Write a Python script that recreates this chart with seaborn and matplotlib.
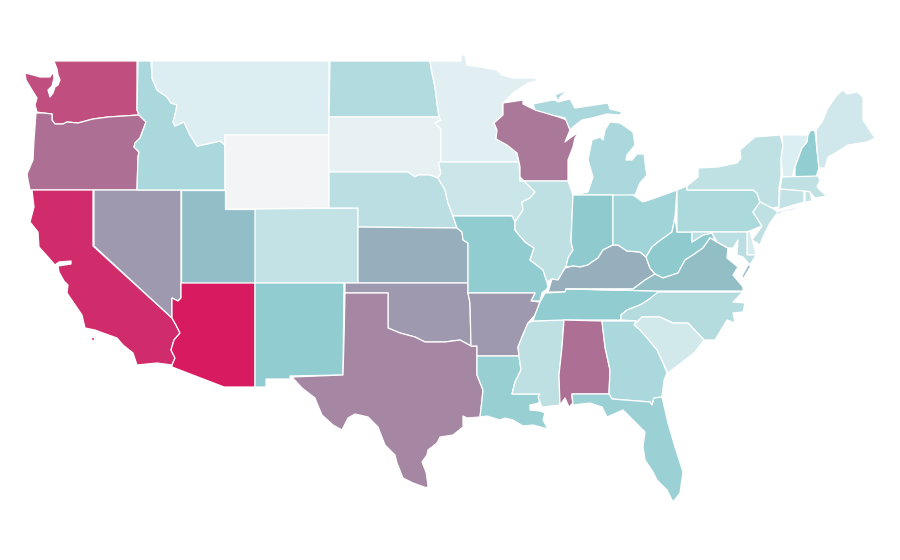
import matplotlib
matplotlib.use("Agg")
import matplotlib.pyplot as plt
from matplotlib.collections import PolyCollection
from matplotlib.colors import Normalize
import numpy as np
import seaborn as sns

# value of each state, 0 = lowest, 1 = highest
states = ["WA", "OR", "CA", "NV", "ID", "MT", "WY", "UT", "AZ", "CO", "NM", "ND", "SD", "NE", "KS", "OK",
          "TX", "MN", "IA", "MO", "AR", "LA", "WI", "IL", "MS", "MI", "IN", "KY", "TN", "AL", "OH", "WV",
          "VA", "NC", "SC", "GA", "FL", "PA", "NY", "VT", "NH", "ME", "MA", "CT", "RI", "NJ", "DE", "MD"]
values = [0.875, 0.75, 0.96, 0.625, 0.35, 0.125, 0.0, 0.53, 1.0, 0.24, 0.49, 0.32, 0.07, 0.28, 0.574, 0.625,
          0.68, 0.10, 0.20, 0.49, 0.625, 0.455, 0.726, 0.26, 0.26, 0.35, 0.50, 0.574, 0.485, 0.75, 0.40, 0.50,
          0.535, 0.31, 0.17, 0.35, 0.43, 0.345, 0.25, 0.13, 0.48, 0.18, 0.25, 0.24, 0.24, 0.25, 0.15, 0.28]

# colour scale, evenly spaced stops
scale_colors = ["#f3f4f6", "#dceef1", "#c0e1e4", "#a6d6da", "#8ecbcf", "#9e9aaf", "#ad7094", "#bf4f80", "#d81b60"]

# state outlines, traced from the map (no geo data available here)
outlines = {
    "WA": [[(54,61),(137,61),(137,110),(139,115),(108,117),(93,119),(78,123),(67,122),(63,124),(55,124),(52,120),
            (52,114),(43,113),(37,112),(35,105),(37,98),(32,90),(26,80),(25,73),(33,75),(40,77),(50,77),(53,72),
            (54,78),(52,86),(48,90),(50,97),(53,93),(55,87),(58,85),(60,80),(58,75),(57,69)]],
    "OR": [[(36,113),(43,113),(52,114),(52,120),(55,124),(63,124),(67,122),(78,123),(93,119),(108,117),(139,115),
            (146,122),(143,130),(140,138),(135,143),(134,147),(139,152),(138,157),(137,190),(30,190),(28,180),
            (27,174),(33,160),(34,140)]],
    "CA": [[(32,190),(93,190),(93,246),(172,318),(176,325),(180,333),(174,340),(171,350),(175,358),(172,365),
            (157,363),(137,365),(133,353),(123,345),(117,338),(103,333),(95,330),(85,328),(82,315),(67,293),
            (68,285),(64,281),(59,272),(58,266),(71,264),(71,261),(59,262),(55,265),(48,257),(39,247),(38,232),
            (30,222),(34,207)],
           [(91,337),(94,337),(94,340),(91,340)]],
    "NV": [[(94,190),(181,190),(181,298),(178,301),(172,298),(172,315),(172,318),(94,246)]],
    "ID": [[(138,61),(151,61),(152,78),(157,90),(167,97),(171,103),(177,105),(175,115),(173,122),(175,126),(184,122),
            (190,135),(197,146),(207,144),(220,141),(225,145),(225,190),(137,190),(138,157),(139,152),(134,147),
            (135,143),(140,138),(143,130),(146,122),(139,115),(137,110)]],
    "MT": [[(152,61),(329,61),(329,135),(225,135),(225,145),(220,141),(207,144),(197,146),(190,135),(184,122),
            (175,126),(173,122),(175,115),(177,105),(171,103),(167,97),(157,90),(152,78)]],
    "WY": [[(225,135),(329,135),(329,208),(225,209)]],
    "UT": [[(181,190),(225,190),(225,209),(255,209),(255,283),(181,283)]],
    "AZ": [[(181,283),(255,283),(255,387),(224,387),(172,367),(172,365),(175,358),(171,350),(174,340),(180,333),
            (176,325),(172,318),(172,298),(178,301),(181,298)]],
    "CO": [[(255,209),(358,208),(358,283),(255,283)]],
    "NM": [[(255,283),(344,283),(343,375),(290,376),(290,379),(266,379),(266,387),(255,387)]],
    "ND": [[(330,61),(430,61),(432,73),(435,87),(437,103),(439,117),(329,117)]],
    "SD": [[(329,117),(439,117),(441,120),(435,123),(441,129),(441,162),(439,165),(441,173),(438,178),(430,175),
            (418,175),(415,177),(408,172),(329,172)]],
    "NE": [[(329,172),(408,172),(415,177),(418,175),(430,175),(438,178),(445,190),(448,203),(453,216),(457,228),
            (358,227),(358,208),(329,208)]],
    "KS": [[(358,227),(457,228),(462,232),(463,240),(468,243),(468,283),(358,283)]],
    "OK": [[(345,283),(468,283),(468,293),(470,303),(471,346),(460,340),(445,342),(425,342),(415,337),(400,333),
            (388,328),(388,293),(345,293)]],
    "TX": [[(345,293),(388,293),(388,328),(400,333),(415,337),(425,342),(445,342),(460,340),(471,346),(477,346),
            (477,375),(483,390),(482,400),(480,417),(467,418),(463,416),(463,427),(453,435),(440,437),(437,443),
            (428,450),(427,455),(422,462),(426,472),(428,485),(427,488),(413,483),(403,478),(397,463),(395,455),
            (385,445),(378,427),(368,417),(355,414),(348,418),(342,430),(333,425),(322,415),(319,408),(315,398),
            (302,388),(292,377),(343,375),(344,340)]],
    "MN": [[(430,61),(461,61),(461,55),(465,55),(467,65),(480,67),(497,70),(502,75),(513,78),(533,78),(540,80),
            (528,83),(513,93),(503,103),(503,115),(494,123),(497,130),(496,139),(507,145),(517,153),(519,162),
            (441,162),(441,129),(435,123),(441,120),(439,117),(437,103),(435,87),(432,73)]],
    "IA": [[(439,162),(519,162),(520,177),(535,192),(530,198),(522,202),(523,210),(515,222),(512,216),(453,216),
            (448,203),(445,190),(438,178),(441,173),(439,165)]],
    "MO": [[(453,216),(512,216),(515,222),(515,230),(525,242),(534,248),(530,260),(543,270),(547,282),(548,288),
            (542,293),(540,301),(531,301),(535,293),(468,293),(468,243),(463,240),(462,232),(457,228)]],
    "AR": [[(468,293),(535,293),(531,301),(540,302),(535,315),(528,323),(522,337),(518,347),(519,356),(477,356),
            (477,346),(471,346),(470,303)]],
    "LA": [[(477,356),(519,356),(521,370),(515,382),(512,394),(540,394),(539,403),(530,405),(530,410),(540,411),
            (545,413),(543,420),(548,429),(533,425),(523,426),(513,420),(505,418),(500,420),(487,416),(480,417),
            (482,400),(483,390),(477,375)]],
    "WI": [[(503,103),(523,100),(523,104),(533,109),(547,113),(567,120),(570,130),(565,142),(570,138),(579,132),
            (575,138),(573,147),(568,160),(568,181),(520,181),(520,167),(519,162),(517,153),(507,145),(496,139),
            (497,130),(494,123),(503,115)]],
    "IL": [[(520,181),(568,181),(573,195),(571,242),(573,250),(568,258),(566,267),(565,268),(558,280),(552,279),
            (547,282),(543,270),(530,260),(534,248),(525,242),(515,230),(515,222),(523,210),(522,202),(530,198),
            (535,192),(520,177)]],
    "MS": [[(533,321),(564,320),(562,347),(559,375),(560,405),(542,407),(538,397),(540,394),(512,394),(515,382),
            (521,370),(519,356),(518,347),(522,337),(528,323)]],
    "MI": [[(533,104),(553,100),(558,101),(555,95),(568,90),(560,97),(558,102),(570,99),(575,108),(595,105),(608,103),
            (610,109),(622,112),(620,115),(607,114),(592,118),(582,120),(573,127),(570,130),(565,118),(552,115),(535,110)],
           [(610,122),(620,123),(633,132),(635,145),(627,155),(626,160),(632,160),(637,154),(644,154),(646,170),
            (647,175),(640,183),(635,195),(613,197),(613,195),(573,195),(588,192),(593,177),(588,160),(592,140),
            (600,137),(603,140),(605,130)]],
    "IN": [[(573,195),(613,195),(613,245),(603,250),(598,258),(592,262),(588,265),(580,267),(573,266),(566,267),
            (568,258),(573,250),(571,242)]],
    "KY": [[(548,292),(552,279),(558,280),(565,268),(573,266),(580,267),(588,265),(592,262),(598,258),(603,250),
            (613,245),(618,245),(627,251),(640,252),(646,257),(650,268),(655,274),(645,280),(633,289),(566,289),
            (565,292)]],
    "TN": [[(545,293),(565,292),(566,289),(658,291),(658,294),(640,305),(627,310),(621,315),(621,320),(564,320),
            (533,321),(535,315),(540,302)]],
    "AL": [[(564,320),(602,321),(605,347),(610,370),(609,394),(572,394),(572,398),(573,403),(569,407),(565,398),
            (560,405),(559,375),(562,347)]],
    "OH": [[(613,195),(633,195),(643,202),(655,198),(677,190),(675,217),(672,232),(658,242),(652,247),(646,257),
            (640,252),(627,251),(618,245),(613,245)]],
    "WV": [[(646,257),(652,247),(658,242),(672,232),(675,217),(677,232),(692,232),(692,242),(703,235),(712,233),
            (715,240),(710,238),(703,248),(693,255),(685,260),(678,273),(663,278),(655,274),(650,268)]],
    "VA": [[(633,289),(645,280),(655,274),(663,278),(678,273),(685,260),(693,255),(703,248),(710,238),(717,242),
            (728,248),(727,258),(738,267),(733,275),(743,287),(743,291),(658,291),(566,289)],
           [(748,265),(751,266),(743,279),(742,276)]],
    "NC": [[(658,292),(743,292),(733,302),(745,303),(743,312),(733,313),(735,323),(727,320),(715,340),(704,340),
            (688,323),(673,323),(660,317),(642,317),(634,325),(636,321),(621,320),(621,315),(627,310),(640,305),
            (648,300)]],
    "SC": [[(634,325),(642,317),(660,317),(673,323),(688,323),(704,340),(695,352),(685,360),(668,373),(663,363),
            (657,350),(647,338),(640,330)]],
    "GA": [[(602,321),(636,321),(634,325),(640,330),(647,338),(657,350),(663,363),(667,373),(664,380),(662,397),
            (654,398),(652,405),(650,402),(612,399),(609,394),(610,370),(605,347)]],
    "FL": [[(572,394),(609,394),(612,399),(650,402),(652,405),(654,398),(662,397),(668,423),(675,447),(683,472),
            (680,493),(673,502),(667,490),(657,480),(653,472),(645,460),(643,447),(645,432),(635,422),(623,410),
            (607,417),(602,407),(590,403),(573,405)]],
    "PA": [[(677,190),(687,186),(687,190),(753,190),(757,193),(760,202),(753,212),(762,226),(747,232),(677,232)]],
    "NY": [[(687,190),(687,186),(698,177),(698,168),(718,167),(737,163),(741,158),(740,150),(748,143),(755,137),
            (780,135),(783,145),(781,160),(781,177),(779,188),(779,207),(772,208),(760,202),(757,193),(753,190)],
           [(773,213),(793,208),(802,208),(783,212),(775,216)]],
    "VT": [[(782,135),(808,135),(807,142),(802,148),(795,167),(792,177),(783,177),(781,160),(783,145)]],
    "NH": [[(811,130),(815,131),(817,150),(819,168),(816,177),(795,177),(795,167),(802,148),(807,142),(808,135)]],
    "ME": [[(816,130),(822,122),(828,108),(837,95),(843,90),(847,94),(857,92),(863,97),(863,120),(875,138),
            (867,142),(848,145),(837,152),(828,157),(825,168),(819,168),(817,150)]],
    "MA": [[(782,177),(818,176),(820,180),(817,187),(823,193),(827,196),(815,198),(810,192),(780,189)]],
    "CT": [[(780,189),(804,191),(804,202),(777,210),(779,207)]],
    "RI": [[(805,191),(810,192),(812,201),(805,202)]],
    "NJ": [[(760,202),(772,208),(778,212),(770,223),(763,237),(760,245),(752,240),(762,226),(753,212)]],
    "DE": [[(747,232),(750,231),(755,250),(756,255),(747,255)]],
    "MD": [[(692,232),(747,232),(747,255),(756,255),(750,265),(743,257),(737,255),(738,240),(733,248),(728,248),
            (717,242),(712,233),(703,235),(692,242)]],
}

sns.set_theme(style="white")
cmap = sns.blend_palette(scale_colors, as_cmap=True)

fig, ax = plt.subplots(figsize=(9, 5.6), dpi=100)
fig.subplots_adjust(0, 0, 1, 1)

polys, poly_values = [], []
for state, value in zip(states, values):
    for part in outlines[state]:
        polys.append(part)
        poly_values.append(value)

shapes = PolyCollection(polys, array=np.array(poly_values), cmap=cmap, norm=Normalize(0, 1),
                        edgecolors="white", linewidths=0.9)
ax.add_collection(shapes)
ax.set_xlim(0, 900)
ax.set_ylim(560, 0)
ax.axis("off")

fig.savefig("out.png", dpi=100, facecolor="white")
